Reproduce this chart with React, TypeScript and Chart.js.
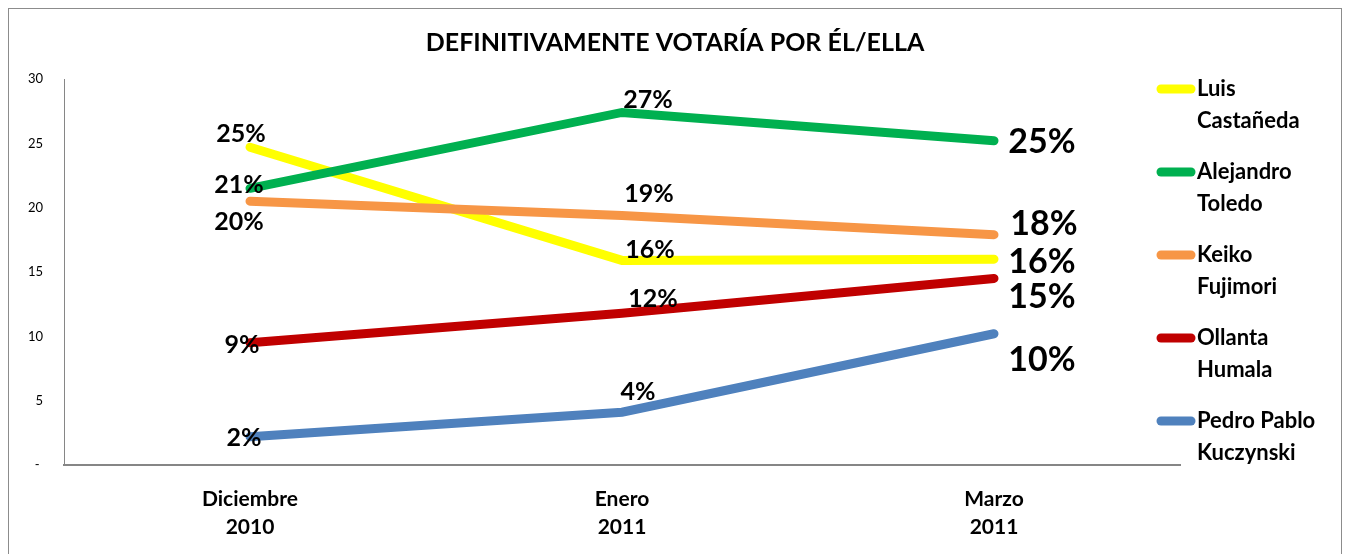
import { useEffect, useRef } from "react";
import { Chart, registerables } from "chart.js";

Chart.register(...registerables);

const TITLE = "DEFINITIVAMENTE VOTARÍA POR ÉL/ELLA";
const categories = [["Diciembre", "2010"], ["Enero", "2011"], ["Marzo", "2011"]];
const seriesNames = [
  ["Luis", "Castañeda"],
  ["Alejandro", "Toledo"],
  ["Keiko", "Fujimori"],
  ["Ollanta", "Humala"],
  ["Pedro Pablo", "Kuczynski"],
];
const castaneda = [24.7, 15.9, 16.0];
const toledo = [21.5, 27.4, 25.2];
const keiko = [20.5, 19.4, 17.9];
const humala = [9.5, 11.8, 14.5];
const kuczynski = [2.2, 4.1, 10.2];

const castanedaLabels = ["25%", "16%", "16%"];
const toledoLabels = ["21%", "27%", "25%"];
const keikoLabels = ["20%", "19%", "18%"];
const humalaLabels = ["9%", "12%", "15%"];
const kuczynskiLabels = ["2%", "4%", "10%"];

const yMin = 0;
const yMax = 30;
const yStep = 5;

const colors = ["#FFFF00", "#00B050", "#F79646", "#C00000", "#4F81BD"];

// label placement relative to each point (style, not data)
const labelOffsets = [
  [[-9, -13], [28, -10], [48, 3]],
  [[-11, -3], [26, -13], [48, 1]],
  [[-11, 21], [27, -21], [50, -11]],
  [[-8, 2], [31, -14], [48, 19]],
  [[-6, 1], [16, -20], [48, 26]],
];

const FONT = "Lato, 'Open Sans', sans-serif";

export default function App() {
  const ref = useRef<HTMLCanvasElement | null>(null);

  useEffect(() => {
    const canvas = ref.current;
    if (!canvas) return;
    const values = [castaneda, toledo, keiko, humala, kuczynski];
    const labels = [castanedaLabels, toledoLabels, keikoLabels, humalaLabels, kuczynskiLabels];

    const decor = {
      id: "decor",
      afterDatasetsDraw(chart: any) {
        const ctx = chart.ctx;
        ctx.save();
        ctx.fillStyle = "#000";
        ctx.textAlign = "center";
        ctx.textBaseline = "middle";
        values.forEach((_, i) => {
          const meta = chart.getDatasetMeta(i);
          meta.data.forEach((pt: any, j: number) => {
            const off = labelOffsets[i][j];
            ctx.font = j === 2 ? `bold 34px ${FONT}` : `bold 25px ${FONT}`;
            ctx.fillText(labels[i][j], pt.x + off[0], pt.y + off[1]);
          });
        });
        ctx.restore();
      },
      afterDraw(chart: any) {
        const ctx = chart.ctx;
        ctx.save();
        ctx.fillStyle = "#000";
        ctx.textAlign = "center";
        ctx.textBaseline = "middle";
        ctx.font = `bold 25px ${FONT}`;
        ctx.fillText(TITLE, chart.width / 2, 34);
        // legend
        const area = chart.chartArea;
        const x0 = area.right - 23;
        const x1 = area.right + 15;
        seriesNames.forEach((name, i) => {
          const y = area.top + 10 + i * 83;
          ctx.strokeStyle = colors[i];
          ctx.lineWidth = 9;
          ctx.lineCap = "round";
          ctx.beginPath();
          ctx.moveTo(x0 + 4, y);
          ctx.lineTo(x1 - 4, y);
          ctx.stroke();
          ctx.textAlign = "left";
          ctx.font = `bold 22px ${FONT}`;
          name.forEach((line, k) => {
            ctx.fillText(line, x1 + 2, y + k * 32);
          });
        });
        ctx.restore();
      },
    };

    const chart = new Chart(canvas, {
      type: "line",
      data: {
        labels: categories,
        datasets: values.map((v, i) => ({
          label: seriesNames[i].join(" "),
          data: v,
          borderColor: colors[i],
          backgroundColor: colors[i],
          borderWidth: 9,
          borderCapStyle: "round",
          borderJoinStyle: "miter",
          pointRadius: 0,
          tension: 0,
          order: values.length - i,
        })),
      },
      options: {
        responsive: false,
        animation: false,
        events: [],
        layout: { padding: { left: 0, right: 161, top: 70, bottom: 0 } },
        plugins: {
          legend: { display: false },
          title: { display: false },
          tooltip: { enabled: false },
        },
        scales: {
          x: {
            offset: true,
            grid: { display: false, drawTicks: false, offset: true },
            border: { display: true, color: "#868686", width: 2 },
            ticks: {
              color: "#000",
              padding: 20,
              font: { family: FONT, size: 21, weight: "bold", lineHeight: 1.34 },
              maxRotation: 0,
              autoSkip: false,
            },
            afterFit(scale: any) {
              scale.height = 89;
            },
          },
          y: {
            min: yMin,
            max: yMax,
            grid: { display: false, drawTicks: false },
            border: { display: true, color: "#868686", width: 1 },
            ticks: {
              stepSize: yStep,
              color: "#000",
              padding: 21,
              font: { family: FONT, size: 13 },
              callback: (v: any) => (Number(v) === 0 ? "- " : String(v)),
            },
            afterFit(scale: any) {
              scale.width = 55;
            },
          },
        },
      },
      plugins: [decor],
    } as any);
    return () => chart.destroy();
  }, []);

  return (
    <div style={{ border: "1px solid #8c8c8c", width: 1332, height: 545, background: "#fff" }}>
      <canvas ref={ref} width={1332} height={545} style={{ display: "block", width: 1332, height: 545 }} />
    </div>
  );
}
